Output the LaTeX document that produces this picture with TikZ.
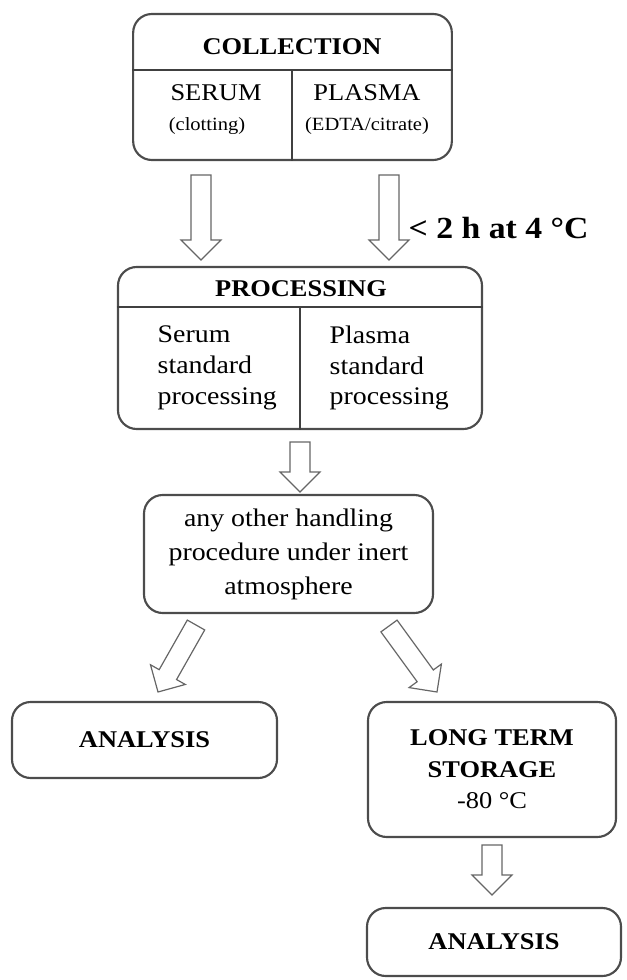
\documentclass[tikz,border=0pt]{standalone}
\usepackage{fontspec}
\setmainfont{Liberation Serif}[FakeStretch=1.1]
\usetikzlibrary{calc}

% hollow block arrow from tail #1 to tip #2
\newcommand{\blockarrow}[2]{%
  \coordinate (headbase) at ($(#2)!15pt!(#1)$);
  \draw[blockarr] ($(#1)!7.5pt!90:(#2)$) -- ($(headbase)!7.5pt!90:(#2)$)
    -- ($(headbase)!15pt!90:(#2)$) -- (#2)
    -- ($(headbase)!15pt!-90:(#2)$) -- ($(headbase)!7.5pt!-90:(#2)$)
    -- ($(#1)!7.5pt!-90:(#2)$) -- cycle;
}

\begin{document}
\begin{tikzpicture}[x=0.75pt, y=-0.75pt,
  box/.style={draw=black!70, line width=1.6pt, rounded corners=14pt, inner sep=0pt, align=center},
  sep/.style={draw=black!75, line width=1.1pt},
  blockarr/.style={draw=black!60, line width=0.9pt, fill=white, line join=miter},
  hd/.style={font=\fontsize{18}{22}\selectfont\bfseries},
  sub/.style={font=\fontsize{18}{22}\selectfont},
  small/.style={font=\fontsize{14}{17}\selectfont},
  txt/.style={font=\fontsize{19}{23}\selectfont, align=left, anchor=west},
  note/.style={font=\fontsize{23}{28}\selectfont\bfseries, anchor=west}
]
\useasboundingbox (0,0) rectangle (626,980);

% collection
\node[box, minimum width=239pt, minimum height=109.5pt] (coll) at (292.5,87) {};
\draw[sep] (coll.west |- 0,70) -- (coll.east |- 0,70);
\draw[sep] (292,70) -- (292,0 |- coll.south);
\node[hd]    (colltitle) at (292,47)  {COLLECTION};
\node[sub]   (serum)     at (216,93)  {SERUM};
\node[small] (clot)      at (207,126) {(clotting)};
\node[sub]   (plasma)    at (367,93)  {PLASMA};
\node[small] (edta)      at (367,126) {(EDTA/citrate)};

% processing
\node[box, minimum width=273pt, minimum height=121.5pt] (proc) at (300,348) {};
\draw[sep] (proc.west |- 0,307) -- (proc.east |- 0,307);
\draw[sep] (300,307) -- (proc.south);
\node[hd]  (proctitle) at (301,289) {PROCESSING};
\node[txt] (serproc)   at (153,368) {Serum\\standard\\processing};
\node[txt] (plaproc)   at (325,368) {Plasma\\standard\\processing};

% handling, analysis, storage
\node[box, minimum width=216.75pt, minimum height=88.5pt,
      font=\fontsize{19}{25.5}\selectfont] (handling) at (288.5,554)
  {any other handling\\procedure under inert\\atmosphere};
\node[box, hd, minimum width=198.75pt, minimum height=57pt] (analysis) at (144.5,740) {ANALYSIS};
\node[box, sub, minimum width=186pt, minimum height=101.25pt,
      font=\fontsize{18}{23.6}\selectfont] (storage) at (492,769.5)
  {\textbf{LONG TERM}\\\textbf{STORAGE}\\-80 °C};
\node[box, hd, minimum width=190.5pt, minimum height=51pt] (analysislate) at (494,942) {ANALYSIS};

% arrow ends
\coordinate (serumtail)  at (201,175);
\coordinate (serumtip)   at (201,260);
\coordinate (plasmatail) at (389,175);
\coordinate (plasmatip)  at (389,260);
\coordinate (proctail)   at (300,442);
\coordinate (proctip)    at (300,492);
\coordinate (lefttail)   at (196,625);
\coordinate (lefttip)    at (158,692);
\coordinate (righttail)  at (389,626);
\coordinate (righttip)   at (437,692);
\coordinate (storetail)  at (492,845);
\coordinate (storetip)   at (492,895);

\blockarrow{serumtail}{serumtip}
\blockarrow{plasmatail}{plasmatip}
\blockarrow{proctail}{proctip}
\blockarrow{lefttail}{lefttip}
\blockarrow{righttail}{righttip}
\blockarrow{storetail}{storetip}

\node[note] (cold) at (404,228) {< 2 h at 4 °C};
\end{tikzpicture}
\end{document}
